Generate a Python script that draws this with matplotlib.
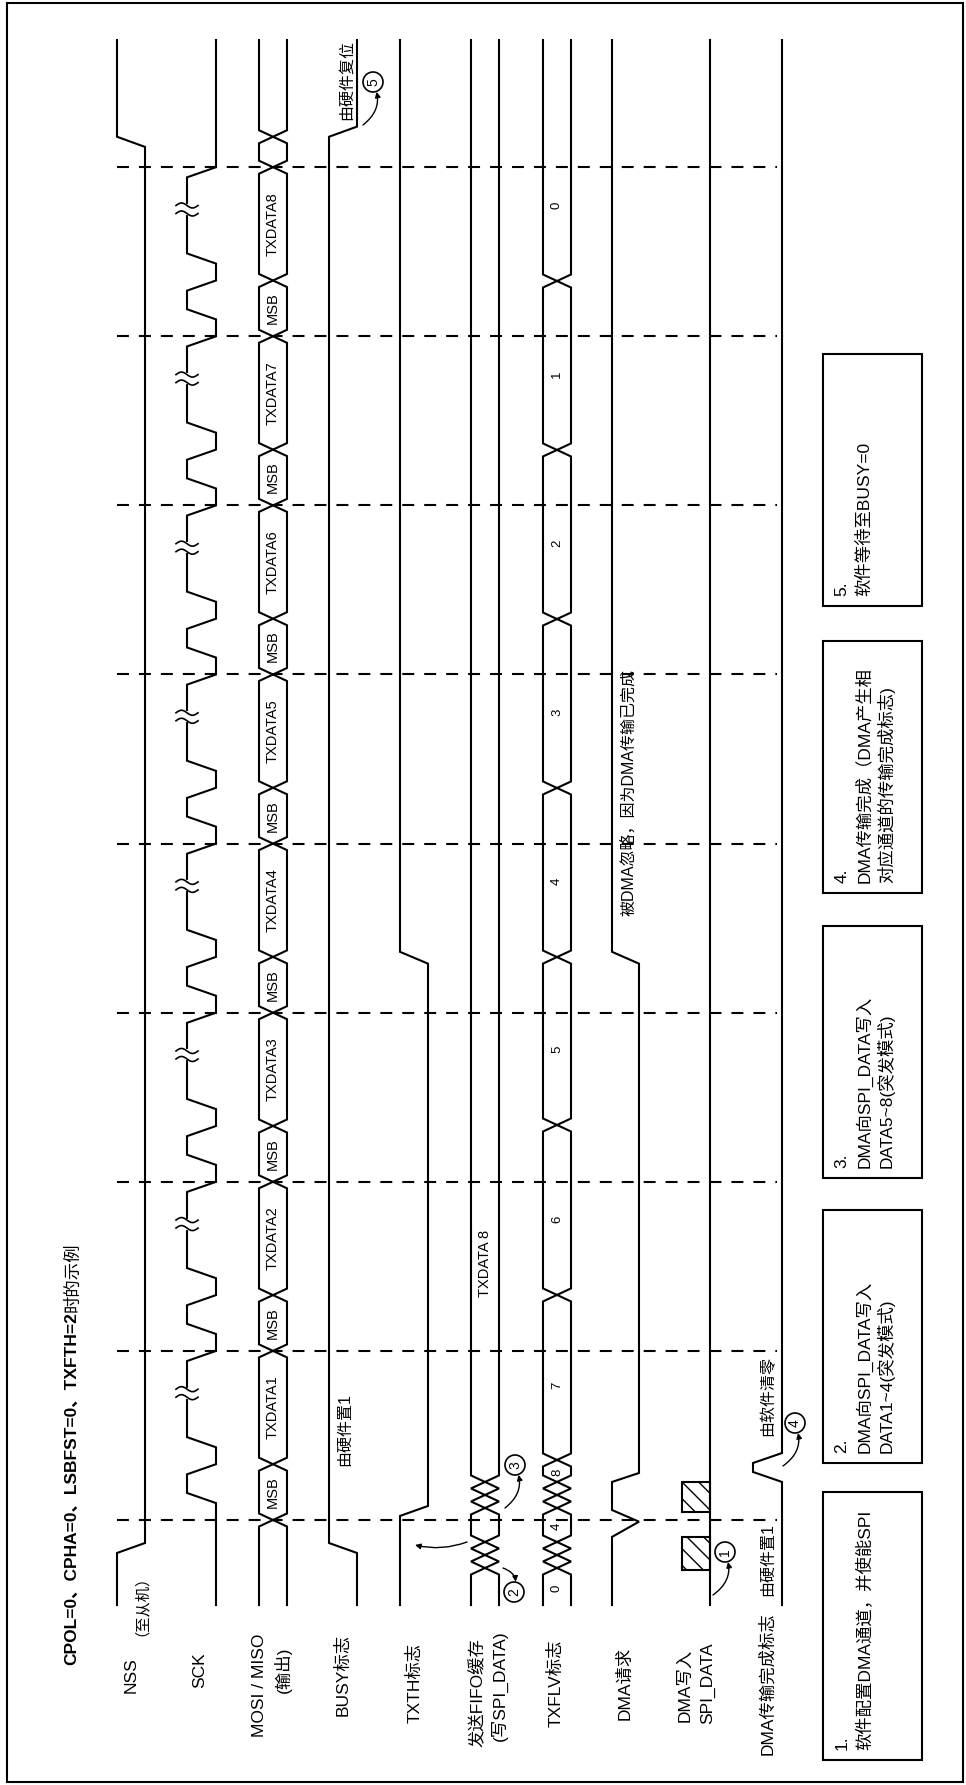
import numpy as np
import matplotlib
matplotlib.use('Agg')
import matplotlib.pyplot as plt
from matplotlib.patches import Rectangle, Ellipse

plt.rcParams['font.family'] = ['Liberation Sans', 'Noto Sans CJK SC']
plt.rcParams['lines.scale_dashes'] = False
plt.rcParams['hatch.linewidth'] = 1.0

# ---------------------------------------------------------------- data
# time unit = one SPI frame (dashed marker to dashed marker), 0 = first marker
t_begin, t_finish = -0.503, 8.752
frames = [0, 1, 2, 3, 4, 5, 6, 7, 8]

# SCK inside one frame: (time in frame, level)
sck_frame = [(0.10, 0), (0.16, 1), (0.27, 1), (0.33, 0),
             (0.43, 0), (0.49, 1), (0.94, 1), (1.00, 0)]
sck_break = 0.75

# digital signals: start level, then (time, level) corners
nss_start, nss_edges = 1, [(-0.195, 1), (-0.136, 0), (8.12, 0), (8.18, 1)]
busy_start, busy_edges = 0, [(-0.195, 0), (-0.136, 1), (8.18, 1), (8.24, 0)]
txth_start, txth_edges = 1, [(0.024, 1), (0.083, 0), (3.29, 0), (3.36, 1)]
dmareq_start, dmareq_edges = 1, [(-0.10, 1), (-0.01, 0), (0.059, 1),
                                 (0.225, 1), (0.278, 0), (3.29, 0), (3.36, 1)]
dmadone_start, dmadone_edges = 0, [(0.225, 0), (0.284, 1), (0.337, 1), (0.396, 0)]

# buses: transition times and the value shown in each segment
mosi_times = [0.0, 0.33, 1.0, 1.33, 2.0, 2.33, 3.0, 3.33, 4.0, 4.33,
              5.0, 5.33, 6.0, 6.33, 7.0, 7.33, 8.0, 8.18]
mosi_labels = ['', 'MSB', 'TXDATA1', 'MSB', 'TXDATA2', 'MSB', 'TXDATA3',
               'MSB', 'TXDATA4', 'MSB', 'TXDATA5', 'MSB', 'TXDATA6',
               'MSB', 'TXDATA7', 'MSB', 'TXDATA8', '', '']

fifo_times = [-0.284, -0.207, -0.130, 0.071, 0.148, 0.225]
fifo_labels = [''] * 7
fifo_note, fifo_note_t = 'TXDATA 8', 1.52

txflv_times = [-0.284, -0.207, -0.130, 0.071, 0.148, 0.225, 0.355,
               1.331, 2.336, 3.329, 4.329, 5.328, 6.328, 7.327]
txflv_labels = ['0', '', '', '4', '', '', '8', '7', '6', '5', '4', '3', '2', '1', '0']

dma_write_bursts = [(-0.296, -0.10), (0.047, 0.225)]

signal_names = ['NSS', 'SCK', 'MOSI / MISO', '(输出)', 'BUSY标志', 'TXTH标志',
                '发送FIFO缓存', '(写SPI_DATA)', 'TXFLV标志', 'DMA请求',
                'DMA写入', 'SPI_DATA', 'DMA传输完成标志']

notes = [['1.', '软件配置DMA通道，并使能SPI'],
         ['2.', 'DMA向SPI_DATA写入', 'DATA1~4(突发模式)'],
         ['3.', 'DMA向SPI_DATA写入', 'DATA5~8(突发模式)'],
         ['4.', 'DMA传输完成（DMA产生相', '对应通道的传输完成标志)'],
         ['5.', '软件等待至BUSY=0']]
note_spans = [(-1.419, 0.166), (0.337, 1.833), (2.022, 3.513),
              (3.708, 5.198), (5.405, 6.895)]

# ---------------------------------------------------------------- layout
Y_ZERO, PX_PER_T = 1520, 169.1
PX = 1.0 / PX_PER_T


def ty(y):
    return (Y_ZERO - y) / PX_PER_T


LW = 1.5
W = 0.0385   # half width of a bus crossing
lanes = {'nss': (117, 145), 'sck': (187, 216), 'mosi': (259, 287),
         'busy': (329, 357), 'txth': (400, 428), 'fifo': (471, 499),
         'txflv': (543, 571), 'dmareq': (612, 639), 'dmawr': (682, 710),
         'dmadone': (753, 782)}
label_pos = [(131, 1675), (200, 1670), (260, 1685), (283, 1670), (343, 1675),
             (415, 1683), (477, 1693), (499, 1686), (556, 1683), (625, 1683),
             (685, 1685), (708, 1683), (767, 1684)]

fig = plt.figure(figsize=(9.66, 17.85), dpi=100)
ax = fig.add_axes([0, 0, 1, 1])
ax.set_xlim(0, 966)
ax.set_ylim(ty(1785), ty(0))
ax.axis('off')


def digital(lane, start, edges):
    xh, xl = lanes[lane]
    pts = [(t_begin, start)] + edges + [(t_finish, edges[-1][1])]
    ax.plot([xl + lv * (xh - xl) for t, lv in pts], [t for t, lv in pts],
            color='k', lw=LW, solid_joinstyle='miter')


def bus(lane, times, labels, frac=0.5, size=10.5):
    x0, x1 = lanes[lane]
    side = (x0, x1)
    for s0 in (0, 1):
        s = s0
        xs, ts = [side[s]], [t_begin]
        for t in times:
            xs += [side[s], side[1 - s]]
            ts += [t - W, t + W]
            s = 1 - s
        xs.append(side[s])
        ts.append(t_finish)
        ax.plot(xs, ts, color='k', lw=LW, solid_joinstyle='miter')
    bounds = [t_begin] + times + [t_finish]
    for i, lab in enumerate(labels):
        if lab:
            a, b = bounds[i], bounds[i + 1]
            ax.text((x0 + x1) / 2, a + frac * min(b - a, 1.0), lab, rotation=90,
                    ha='center', va='center', fontsize=size)


digital('nss', nss_start, nss_edges)
sck_edges = [(k + dt, lv) for k in frames[:-1] for dt, lv in sck_frame]
digital('sck', 0, sck_edges)
digital('busy', busy_start, busy_edges)
digital('txth', txth_start, txth_edges)
digital('dmareq', dmareq_start, dmareq_edges)
digital('dmadone', dmadone_start, dmadone_edges)

bus('mosi', mosi_times, mosi_labels)
bus('fifo', fifo_times, fifo_labels)
bus('txflv', txflv_times, txflv_labels, frac=0.45, size=9.5)
ax.text(485, fifo_note_t, fifo_note, rotation=90, ha='center', va='center', fontsize=10.5)

# SCK break marks
for k in frames[:-1]:
    tb = k + sck_break
    ax.plot([187, 187], [tb - 3.5 * PX, tb + 3.5 * PX], color='white', lw=3, zorder=3)
    xs = np.linspace(-11, 11, 30)
    for off in (-4, 4):
        ax.plot(187 + xs, tb - (off + 2.5 * np.sin(np.pi * xs / 11)) * PX,
                color='k', lw=1.2, zorder=4)

# DMA write bursts
xw0, xw1 = lanes['dmawr']
ax.plot([xw1, xw1], [t_begin, t_finish], color='k', lw=LW)
for a, b in dma_write_bursts:
    ax.add_patch(Rectangle((xw0, a), xw1 - xw0, b - a, facecolor='white',
                           edgecolor='k', hatch='\\\\', lw=LW))

# frame markers
for k in frames:
    ax.plot([117, 777], [k, k], color='k', lw=LW, dashes=(8.6, 7.2))

# signal names
for name, (x, y) in zip(signal_names, label_pos):
    ax.text(x, ty(y), name, rotation=90, ha='center', va='center', fontsize=12.5)
ax.text(133, ty(1598), '（至从机）', rotation=90, ha='center', va='center', fontsize=11)

# inline comments on signals
for txt, x, y in [('由硬件置1', 345, 1430), ('由硬件复位', 346, 80),
                  ('被DMA忽略，因为DMA传输已完成', 628, 792),
                  ('由硬件置1', 768, 1560), ('由软件清零', 768, 1396)]:
    ax.text(x, ty(y), txt, rotation=90, ha='center', va='center', fontsize=11.5)

# numbered circles with arrows
r = 10
for num, x, y in [('1', 725, 1552), ('2', 514, 1592), ('3', 515, 1465),
                  ('4', 795, 1423), ('5', 373, 82)]:
    ax.add_patch(Ellipse((x, ty(y)), 2 * r, 2 * r * PX, fill=False, lw=1.2, color='k'))
    ax.text(x, ty(y), num, rotation=90, ha='center', va='center', fontsize=10)
for (xa, ya), (xb, yb), rad, shr in [((713, 1595), (725, 1552), 0.4, 7.5),
                                     ((503, 1568), (514, 1592), -0.5, 7.5),
                                     ((505, 1508), (515, 1465), 0.4, 7.5),
                                     ((783, 1466), (795, 1423), 0.4, 7.5),
                                     ((363, 125), (373, 82), 0.4, 7.5),
                                     ((467, 1542), (415, 1545), -0.15, 0)]:
    ax.annotate('', xy=(xb, ty(yb)), xytext=(xa, ty(ya)),
                arrowprops=dict(arrowstyle='-|>', lw=1, color='k', mutation_scale=8,
                                connectionstyle='arc3,rad=%s' % rad,
                                shrinkA=0, shrinkB=shr))

# note boxes
for lines, (a, b) in zip(notes, note_spans):
    ax.add_patch(Rectangle((823, a), 99, b - a, fill=False, lw=LW, color='k'))
    for line, x in zip(lines, [842, 864, 886]):
        ax.text(x, a + 10 * PX, line, rotation=90, ha='center', va='bottom', fontsize=12.5)

# title, bold part then plain part
t1 = ax.text(72, ty(1665), 'CPOL=0、CPHA=0、LSBFST=0、TXFTH=2', rotation=90,
             ha='center', va='bottom', fontsize=12.5, fontweight='bold')
fig.canvas.draw()
top = ax.transData.inverted().transform((0, t1.get_window_extent().y1))[1]
ax.text(72, top, '时的示例', rotation=90, ha='center', va='bottom', fontsize=12.5)

# outer frame
ax.add_patch(Rectangle((7, ty(1782)), 956, ty(3) - ty(1782), fill=False, lw=LW, color='k'))

fig.savefig('out.png', dpi=100, facecolor='white')
